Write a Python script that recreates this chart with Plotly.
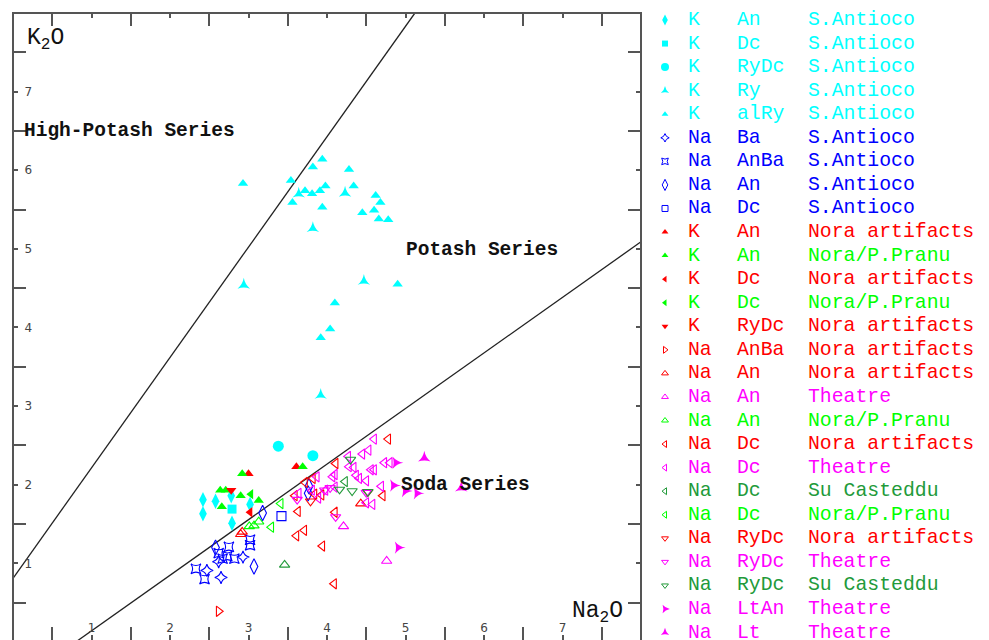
import plotly.graph_objects as go

# ---------------- data ----------------
K_AN_SA_X = [2.42, 2.42, 2.58, 2.78, 3.02, 2.79]
K_AN_SA_Y = [1.81, 1.63, 1.79, 1.86, 1.75, 1.51]
K_DC_SA_X = [2.79]
K_DC_SA_Y = [1.69]
K_RYDC_SA_X = [3.38, 3.82]
K_RYDC_SA_Y = [2.49, 2.37]
K_RY_SA_X = [3.64, 4.23, 3.82, 2.94, 4.47, 3.92]
K_RY_SA_Y = [5.70, 5.71, 5.26, 4.54, 4.59, 3.14]
K_ALRY_SA_X = [2.93, 3.54, 3.94, 3.82, 4.28, 3.72, 3.81, 3.91, 3.98, 4.34, 3.56,
               3.94, 4.62, 4.68, 4.45, 4.60, 4.66, 4.78, 4.90, 4.10, 4.04, 3.92]
K_ALRY_SA_Y = [5.83, 5.87, 6.14, 6.04, 6.01, 5.74, 5.70, 5.74, 5.80, 5.80, 5.59,
               5.53, 5.68, 5.59, 5.46, 5.49, 5.38, 5.37, 4.55, 4.31, 3.98, 3.87]
NA_BA_SA_X = [2.47, 2.65, 2.62, 2.93]
NA_BA_SA_Y = [0.91, 0.82, 1.02, 1.08]
NA_ANBA_SA_X = [2.33, 2.44, 2.75, 2.62, 2.67, 2.73, 2.82, 3.02, 3.02]
NA_ANBA_SA_Y = [0.93, 0.80, 1.21, 1.13, 1.06, 1.09, 1.06, 1.30, 1.23]
NA_AN_SA_X = [2.58, 3.18, 3.07, 3.77, 3.76]
NA_AN_SA_Y = [1.20, 1.64, 0.96, 1.98, 1.89]
NA_DC_SA_X = [3.42]
NA_DC_SA_Y = [1.60]
K_AN_NORA_X = [3.00, 3.61]
K_AN_NORA_Y = [2.14, 2.23]
K_AN_PP_X = [2.92, 2.64, 2.71, 2.90, 2.66, 3.13, 3.69]
K_AN_PP_Y = [2.14, 1.93, 1.93, 1.86, 1.72, 1.80, 2.23]
K_DC_NORA_X = [3.02]
K_DC_NORA_Y = [1.65]
K_DC_PP_X = [3.03]
K_DC_PP_Y = [1.88]
K_RYDC_NORA_X = [2.78]
K_RYDC_NORA_Y = [1.93]
NA_ANBA_NORA_X = [2.62]
NA_ANBA_NORA_Y = [0.39]
NA_AN_NORA_X = [2.90, 2.92, 4.43]
NA_AN_NORA_Y = [1.37, 1.40, 1.76]
NA_AN_TH_X = [4.21, 4.76]
NA_AN_TH_Y = [1.47, 1.03]
NA_AN_PP_X = [3.01, 3.07, 3.13]
NA_AN_PP_Y = [1.47, 1.48, 1.53]
NA_AN_SUC_X = [3.46]
NA_AN_SUC_Y = [0.98]
NA_DC_NORA_X = [3.63, 3.71, 3.61, 3.94, 3.72, 3.59, 3.82, 4.78, 4.11, 4.71, 4.10,
                4.09, 3.84, 3.93]
NA_DC_NORA_Y = [1.66, 1.42, 1.35, 1.22, 2.03, 1.86, 2.08, 2.58, 2.27, 1.86, 1.65,
                0.74, 1.88, 1.87]
NA_DC_TH_X = [4.60, 4.53, 4.45, 4.27, 4.28, 4.34, 4.56, 4.60, 4.73, 4.80, 4.10, 4.07,
              4.37, 4.41, 4.50, 4.10, 3.98, 4.69, 4.58, 3.87, 3.81, 3.89, 3.64, 4.50]
NA_DC_TH_Y = [2.58, 2.44, 2.39, 2.36, 2.23, 2.22, 2.19, 2.19, 2.28, 2.28, 2.13, 2.10,
              2.12, 2.08, 2.05, 1.97, 1.93, 1.98, 1.75, 2.10, 1.93, 1.83, 1.89, 1.77]
NA_DC_SUC_X = [4.23]
NA_DC_SUC_Y = [2.04]
NA_DC_PP_X = [3.29, 3.41]
NA_DC_PP_Y = [1.46, 1.76]
NA_RYDC_NORA_X = [4.52, 3.79]
NA_RYDC_NORA_Y = [1.91, 1.79]
NA_RYDC_TH_X = [4.11, 3.62, 3.97, 4.04, 4.50]
NA_RYDC_TH_Y = [1.59, 1.81, 1.93, 1.96, 1.90]
NA_RYDC_SUC_X = [4.30, 4.16, 4.32, 4.52]
NA_RYDC_SUC_Y = [2.32, 1.94, 1.92, 1.91]
NA_LTAN_TH_X = [4.88, 4.85, 5.00, 5.15, 4.91]
NA_LTAN_TH_Y = [2.28, 1.99, 1.92, 1.89, 1.20]
NA_LT_TH_X = [5.24, 5.71]
NA_LT_TH_Y = [2.34, 1.96]

# boundary lines between the series fields
HP_LINE_X = [0.0, 5.12]
HP_LINE_Y = [0.81, 8.0]
SODA_LINE_X = [0.80, 8.0]
SODA_LINE_Y = [0.0, 5.09]

X_TICKS = [1, 2, 3, 4, 5, 6, 7]
Y_TICKS = [1, 2, 3, 4, 5, 6, 7]
HALF_TICKS = [0.5, 1.5, 2.5, 3.5, 4.5, 5.5, 6.5, 7.5]

FIELD_LABELS = ["High-Potash Series", "Potash Series", "Soda Series"]
FIELD_LABEL_X = [0.11, 4.98, 4.92]
FIELD_LABEL_Y = [6.50, 4.98, 2.00]

# ---------------- styles ----------------
C = {"cyan": "#00FFFF", "blue": "#0000FF", "red": "#FF0000",
     "green": "#00FF00", "magenta": "#FF00FF", "dkgreen": "#229A3A"}

# (alkali, type, site, colour, symbol, size, angle, x, y, in legend)
SERIES = [
    ("K", "An", "S.Antioco", "cyan", "diamond-tall", 11, 0, K_AN_SA_X, K_AN_SA_Y, True),
    ("K", "Dc", "S.Antioco", "cyan", "square", 9, 0, K_DC_SA_X, K_DC_SA_Y, True),
    ("K", "RyDc", "S.Antioco", "cyan", "circle", 11, 0, K_RYDC_SA_X, K_RYDC_SA_Y, True),
    ("K", "Ry", "S.Antioco", "cyan", "star-triangle-up", 9, 0, K_RY_SA_X, K_RY_SA_Y, True),
    ("K", "alRy", "S.Antioco", "cyan", "triangle-up", 9, 0, K_ALRY_SA_X, K_ALRY_SA_Y, True),
    ("Na", "Ba", "S.Antioco", "blue", "star-diamond-open", 9, 0, NA_BA_SA_X, NA_BA_SA_Y, True),
    ("Na", "AnBa", "S.Antioco", "blue", "star-square-open", 9, 0, NA_ANBA_SA_X, NA_ANBA_SA_Y, True),
    ("Na", "An", "S.Antioco", "blue", "diamond-tall-open", 11, 0, NA_AN_SA_X, NA_AN_SA_Y, True),
    ("Na", "Dc", "S.Antioco", "blue", "square-open", 9, 0, NA_DC_SA_X, NA_DC_SA_Y, True),
    ("K", "An", "Nora artifacts", "red", "triangle-up", 9, 0, K_AN_NORA_X, K_AN_NORA_Y, True),
    ("K", "An", "Nora/P.Pranu", "green", "triangle-up", 9, 0, K_AN_PP_X, K_AN_PP_Y, True),
    ("K", "Dc", "Nora artifacts", "red", "triangle-left", 9, 0, K_DC_NORA_X, K_DC_NORA_Y, True),
    ("K", "Dc", "Nora/P.Pranu", "green", "triangle-left", 9, 0, K_DC_PP_X, K_DC_PP_Y, True),
    ("K", "RyDc", "Nora artifacts", "red", "triangle-down", 9, 0, K_RYDC_NORA_X, K_RYDC_NORA_Y, True),
    ("Na", "AnBa", "Nora artifacts", "red", "triangle-right-open", 9, 0, NA_ANBA_NORA_X, NA_ANBA_NORA_Y, True),
    ("Na", "An", "Nora artifacts", "red", "triangle-up-open", 9, 0, NA_AN_NORA_X, NA_AN_NORA_Y, True),
    ("Na", "An", "Theatre", "magenta", "triangle-up-open", 9, 0, NA_AN_TH_X, NA_AN_TH_Y, True),
    ("Na", "An", "Nora/P.Pranu", "green", "triangle-up-open", 9, 0, NA_AN_PP_X, NA_AN_PP_Y, True),
    ("Na", "Dc", "Nora artifacts", "red", "triangle-left-open", 9, 0, NA_DC_NORA_X, NA_DC_NORA_Y, True),
    ("Na", "Dc", "Theatre", "magenta", "triangle-left-open", 9, 0, NA_DC_TH_X, NA_DC_TH_Y, True),
    ("Na", "Dc", "Su Casteddu", "dkgreen", "triangle-left-open", 9, 0, NA_DC_SUC_X, NA_DC_SUC_Y, True),
    ("Na", "Dc", "Nora/P.Pranu", "green", "triangle-left-open", 9, 0, NA_DC_PP_X, NA_DC_PP_Y, True),
    ("Na", "RyDc", "Nora artifacts", "red", "triangle-down-open", 9, 0, NA_RYDC_NORA_X, NA_RYDC_NORA_Y, True),
    ("Na", "RyDc", "Theatre", "magenta", "triangle-down-open", 9, 0, NA_RYDC_TH_X, NA_RYDC_TH_Y, True),
    ("Na", "RyDc", "Su Casteddu", "dkgreen", "triangle-down-open", 9, 0, NA_RYDC_SUC_X, NA_RYDC_SUC_Y, True),
    ("Na", "LtAn", "Theatre", "magenta", "star-triangle-up", 9, 90, NA_LTAN_TH_X, NA_LTAN_TH_Y, True),
    ("Na", "Lt", "Theatre", "magenta", "star-triangle-up", 9, 0, NA_LT_TH_X, NA_LT_TH_Y, True),
    ("Na", "An", "Su Casteddu", "dkgreen", "triangle-up-open", 9, 0, NA_AN_SUC_X, NA_AN_SUC_Y, False),
]

W, H = 989, 640
PL, PR, PT, PB = 13, 641, 13, 640   # plot frame in pixels
MONO = "Liberation Mono"
AXC = "#555555"

fig = go.Figure()

# boundary lines
for lx, ly in [(HP_LINE_X, HP_LINE_Y), (SODA_LINE_X, SODA_LINE_Y)]:
    fig.add_trace(go.Scatter(x=lx, y=ly, mode="lines", showlegend=False,
                             line=dict(color="#222222", width=1.3), hoverinfo="skip"))

# data points
for alk, typ, site, col, sym, size, ang, xs, ys, leg in SERIES:
    is_open = sym.endswith("-open")
    fig.add_trace(go.Scatter(
        x=xs, y=ys, mode="markers", showlegend=False,
        name=f"{alk} {typ} {site}",
        marker=dict(symbol=sym, size=size, angle=ang, color=C[col],
                    line=dict(color=C[col], width=1.1 if is_open else 0)),
    ))

# hand-drawn legend on an auxiliary pixel-based axis pair
LEG_X0 = 650
ROW0, ROWSTEP = 20, 23.56
COL_MARK, COL_A, COL_B, COL_C = 665, 686, 735, 806
annotations = []
row = 0
for alk, typ, site, col, sym, size, ang, xs, ys, leg in SERIES:
    if not leg:
        continue
    ypix = ROW0 + row * ROWSTEP
    is_open = sym.endswith("-open")
    fig.add_trace(go.Scatter(
        x=[COL_MARK], y=[ypix], mode="markers", showlegend=False, hoverinfo="skip",
        xaxis="x2", yaxis="y2",
        marker=dict(symbol=sym, size=max(size - 3, 5), angle=ang, color=C[col],
                    line=dict(color=C[col], width=1 if is_open else 0)),
    ))
    for cx, txt in [(COL_A, alk), (COL_B, typ), (COL_C, site)]:
        annotations.append(dict(x=cx, y=ypix, xref="x2", yref="y2", text=txt,
                                showarrow=False, xanchor="left", yanchor="middle",
                                font=dict(family=MONO, size=19.8, color=C[col])))
    row += 1

# field labels
for t, fx, fy in zip(FIELD_LABELS, FIELD_LABEL_X, FIELD_LABEL_Y):
    annotations.append(dict(x=fx, y=fy, xref="x", yref="y", text=f"<b>{t}</b>",
                            showarrow=False, xanchor="left", yanchor="middle",
                            font=dict(family=MONO, size=19.5, color="#111111")))
# axis titles
annotations.append(dict(x=0.15, y=7.66, xref="x", yref="y", text="K<sub>2</sub>O",
                        showarrow=False, xanchor="left", yanchor="middle",
                        font=dict(family=MONO, size=23, color="#111111")))
annotations.append(dict(x=7.10, y=0.38, xref="x", yref="y", text="Na<sub>2</sub>O",
                        showarrow=False, xanchor="left", yanchor="middle",
                        font=dict(family=MONO, size=23, color="#111111")))

tickfont = dict(family="DejaVu Sans", size=12, color="#444444")
common = dict(showgrid=False, zeroline=False, showline=False, ticks="inside",
              ticklen=5, tickwidth=1.5, tickcolor=AXC, mirror="ticks",
              ticklabelposition="inside", tickfont=tickfont,
              minor=dict(tickvals=HALF_TICKS, ticks="inside", ticklen=13,
                         tickwidth=1.5, tickcolor=AXC))

fig.update_layout(
    width=W, height=H, margin=dict(l=0, r=0, t=0, b=0),
    paper_bgcolor="white", plot_bgcolor="white", showlegend=False,
    xaxis=dict(domain=[PL / W, PR / W], range=[0, 8], tickvals=X_TICKS, **common),
    yaxis=dict(domain=[0, (H - PT) / H], range=[0.025, 8], tickvals=Y_TICKS,
               ticklabelstandoff=6, **common),
    xaxis2=dict(domain=[LEG_X0 / W, 1], range=[LEG_X0, W], visible=False, fixedrange=True),
    yaxis2=dict(domain=[0, 1], range=[H, 0], visible=False, fixedrange=True),
    annotations=annotations,
    shapes=[dict(type="rect", xref="paper", yref="paper",
                 x0=PL / W, x1=PR / W, y0=-3 / H, y1=(H - PT) / H,
                 line=dict(color=AXC, width=2), layer="above")],
)

fig.write_html("out.html", config={"displayModeBar": False},
               post_script="document.body.style.margin='0';"
                           "document.body.style.overflow='hidden';")
